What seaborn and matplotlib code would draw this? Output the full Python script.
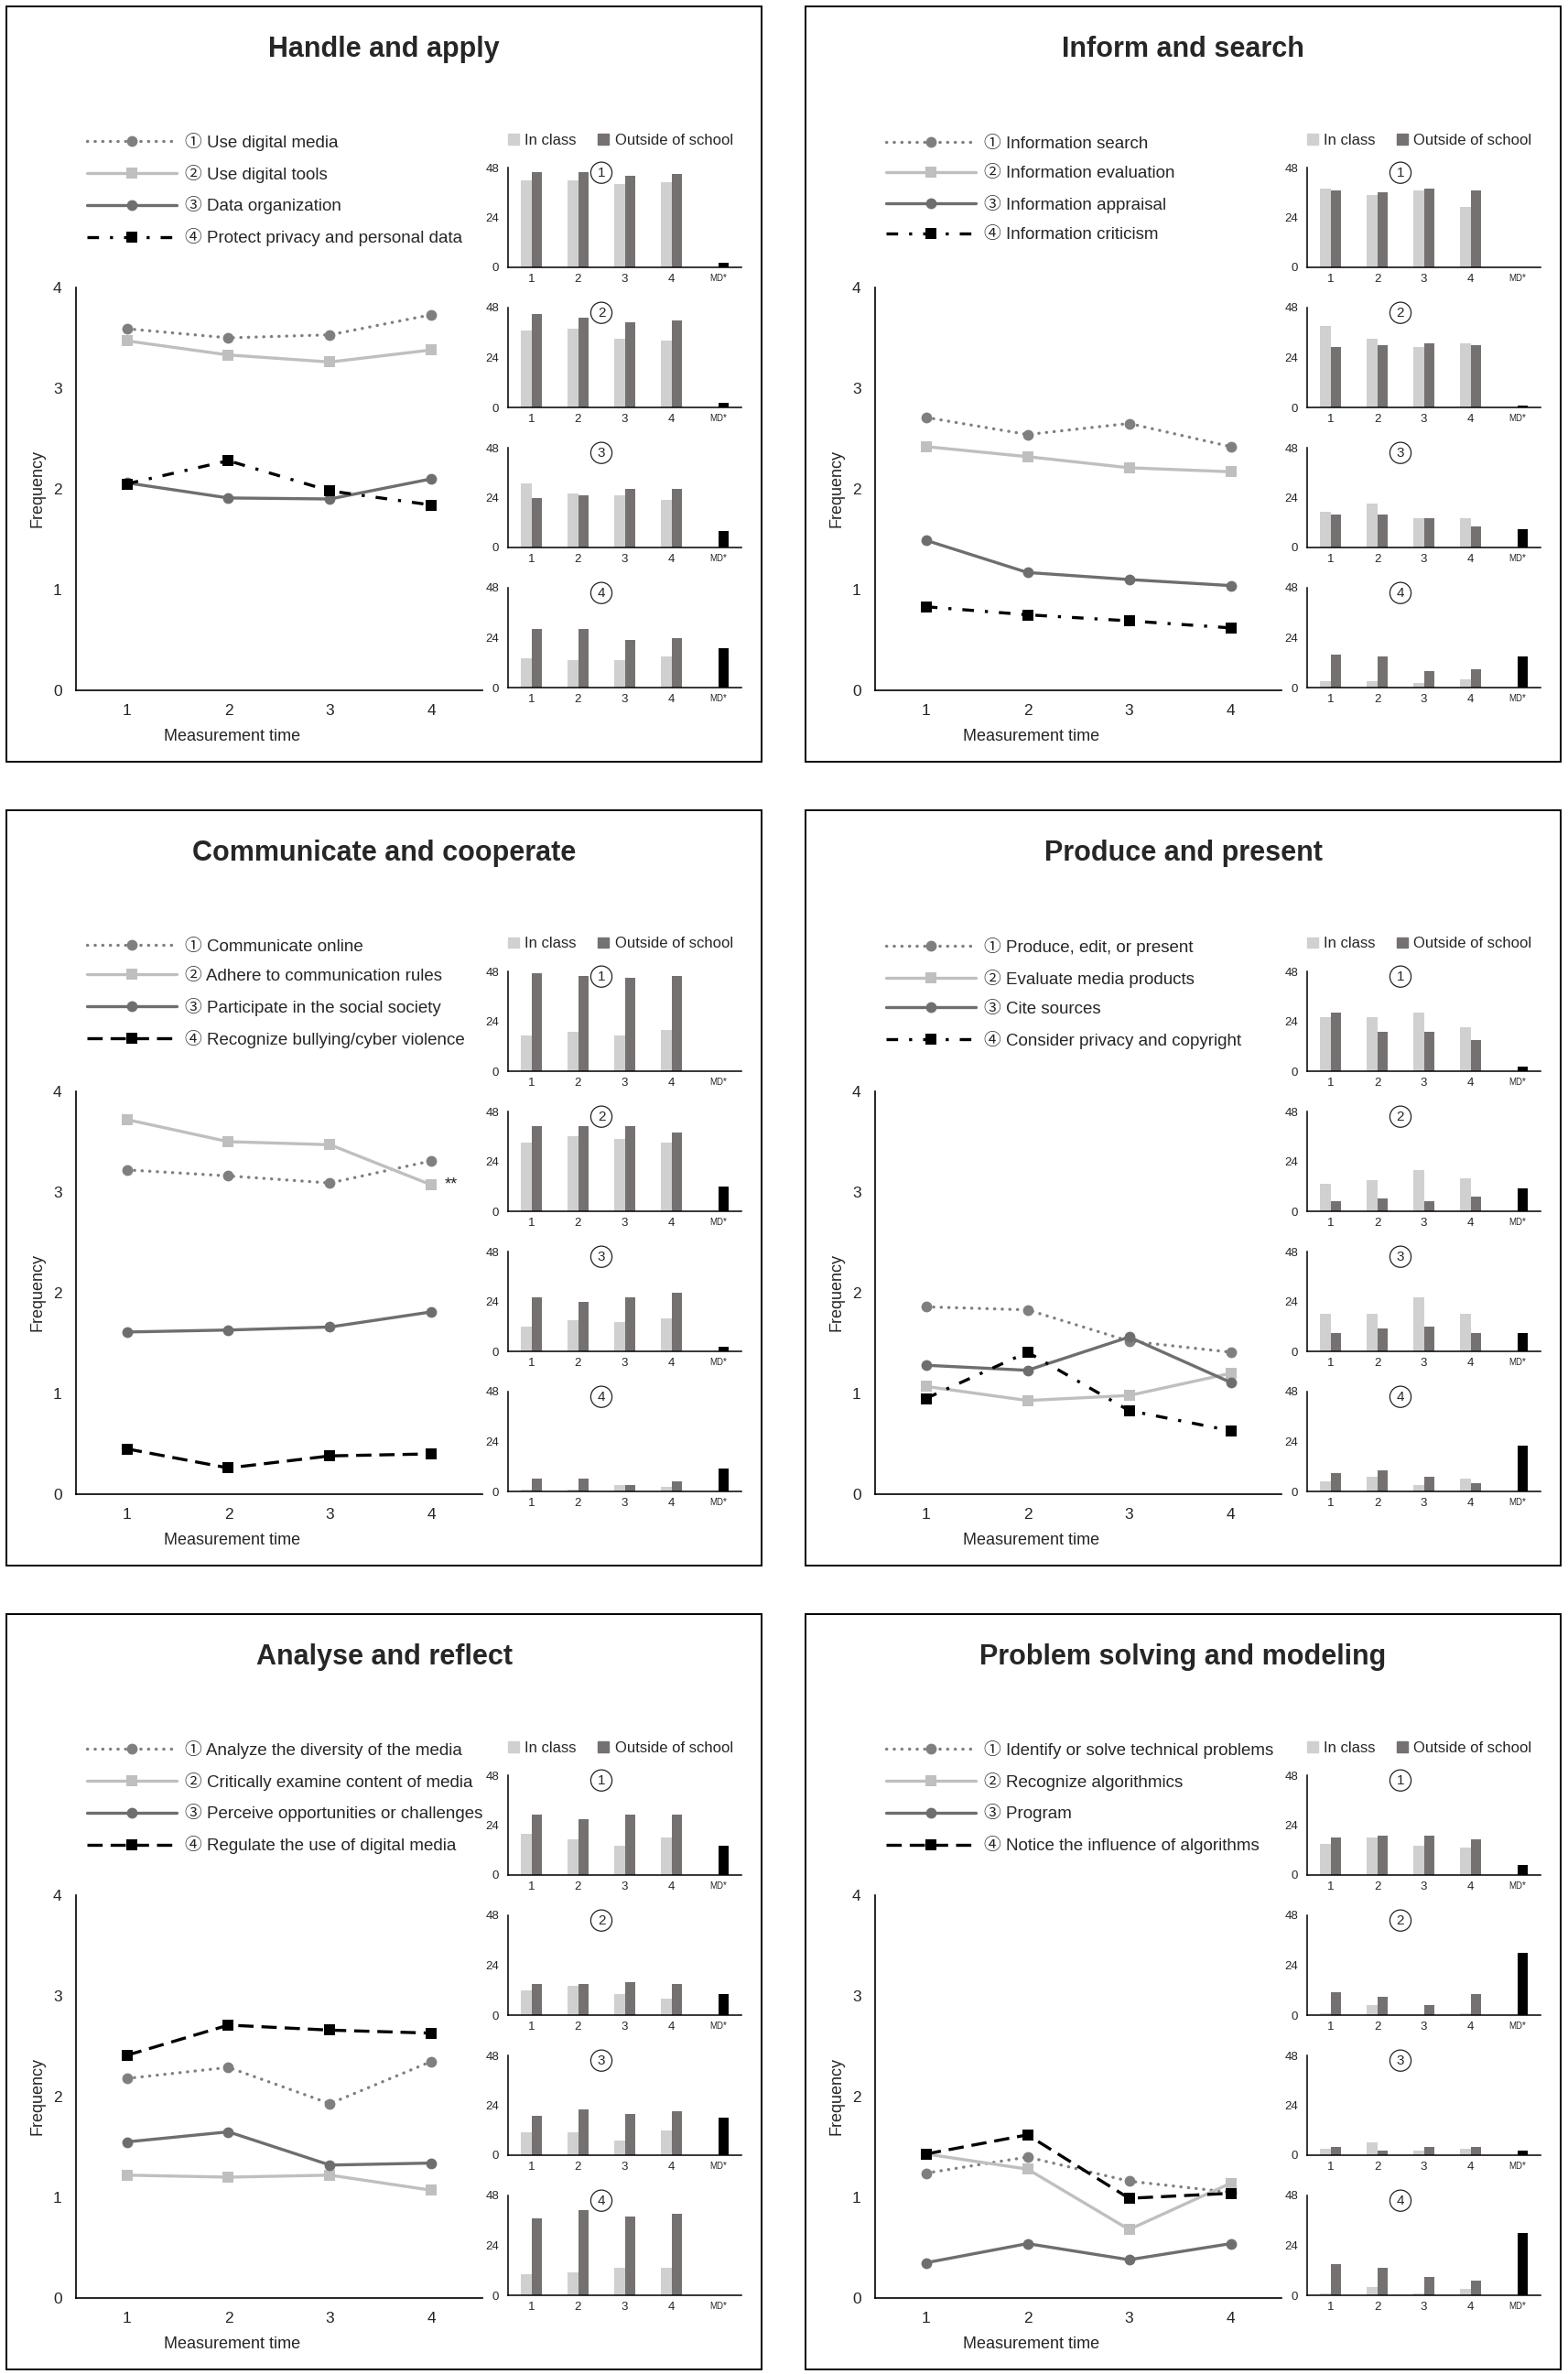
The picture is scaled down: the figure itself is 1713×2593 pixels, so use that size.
import matplotlib
matplotlib.use("Agg")
import matplotlib.pyplot as plt
from matplotlib.patches import Rectangle, Patch
import pandas as pd
import seaborn as sns

W, H = 1713, 2593

times = [1, 2, 3, 4]
bar_cats = ["1", "2", "3", "4", "MD*"]
settings = ["In class", "Outside of school"]
circled = ["\u2460", "\u2461", "\u2462", "\u2463"]

# --- Handle and apply ---
handle_title = "Handle and apply"
handle_labels = ["Use digital media", "Use digital tools", "Data organization",
                 "Protect privacy and personal data"]
handle_lines = [[3.59, 3.50, 3.53, 3.73],
                [3.47, 3.33, 3.26, 3.38],
                [2.06, 1.91, 1.90, 2.10],
                [2.05, 2.28, 1.98, 1.84]]
handle_in = [[42, 42, 40, 41], [37, 38, 33, 32], [31, 26, 25, 23], [14, 13, 13, 15]]
handle_out = [[46, 46, 44, 45], [45, 43, 41, 42], [24, 25, 28, 28], [28, 28, 23, 24]]
handle_md = [2, 2, 8, 19]

# --- Inform and search ---
inform_title = "Inform and search"
inform_labels = ["Information search", "Information evaluation", "Information appraisal",
                 "Information criticism"]
inform_lines = [[2.71, 2.54, 2.65, 2.42],
                [2.42, 2.32, 2.21, 2.17],
                [1.49, 1.17, 1.10, 1.04],
                [0.83, 0.75, 0.69, 0.62]]
inform_in = [[38, 35, 37, 29], [39, 33, 29, 31], [17, 21, 14, 14], [3, 3, 2, 4]]
inform_out = [[37, 36, 38, 37], [29, 30, 31, 30], [16, 16, 14, 10], [16, 15, 8, 9]]
inform_md = [0, 1, 9, 15]

# --- Communicate and cooperate ---
comm_title = "Communicate and cooperate"
comm_labels = ["Communicate online", "Adhere to communication rules",
               "Participate in the social society", "Recognize bullying/cyber violence"]
comm_lines = [[3.22, 3.16, 3.09, 3.31],
              [3.72, 3.50, 3.47, 3.07],
              [1.61, 1.63, 1.66, 1.81],
              [0.45, 0.26, 0.38, 0.40]]
comm_in = [[17, 19, 17, 20], [33, 36, 35, 33], [12, 15, 14, 16], [1, 1, 3, 2]]
comm_out = [[47, 46, 45, 46], [41, 41, 41, 38], [26, 24, 26, 28], [6, 6, 3, 5]]
comm_md = [0, 12, 2, 11]

# --- Produce and present ---
produce_title = "Produce and present"
produce_labels = ["Produce, edit, or present", "Evaluate media products", "Cite sources",
                  "Consider privacy and copyright"]
produce_lines = [[1.86, 1.83, 1.52, 1.41],
                 [1.07, 0.93, 0.98, 1.20],
                 [1.28, 1.23, 1.56, 1.11],
                 [0.95, 1.41, 0.83, 0.63]]
produce_in = [[26, 26, 28, 21], [13, 15, 20, 16], [18, 18, 26, 18], [5, 7, 3, 6]]
produce_out = [[28, 19, 19, 15], [5, 6, 5, 7], [9, 11, 12, 9], [9, 10, 7, 4]]
produce_md = [2, 11, 9, 22]

# --- Analyse and reflect ---
analyse_title = "Analyse and reflect"
analyse_labels = ["Analyze the diversity of the media", "Critically examine content of media",
                  "Perceive opportunities or challenges", "Regulate the use of digital media"]
analyse_lines = [[2.18, 2.29, 1.93, 2.35],
                 [1.22, 1.20, 1.22, 1.07],
                 [1.55, 1.65, 1.32, 1.34],
                 [2.41, 2.71, 2.66, 2.63]]
analyse_in = [[20, 17, 14, 18], [12, 14, 10, 8], [11, 11, 7, 12], [10, 11, 13, 13]]
analyse_out = [[29, 27, 29, 29], [15, 15, 16, 15], [19, 22, 20, 21], [37, 41, 38, 39]]
analyse_md = [14, 10, 18, 0]

# --- Problem solving and modeling ---
problem_title = "Problem solving and modeling"
problem_labels = ["Identify or solve technical problems", "Recognize algorithmics", "Program",
                  "Notice the influence of algorithms"]
problem_lines = [[1.24, 1.40, 1.16, 1.05],
                 [1.43, 1.28, 0.68, 1.14],
                 [0.35, 0.54, 0.38, 0.54],
                 [1.43, 1.62, 0.99, 1.04]]
problem_in = [[15, 18, 14, 13], [1, 5, 0, 1], [3, 6, 2, 3], [1, 4, 1, 3]]
problem_out = [[18, 19, 19, 17], [11, 9, 5, 10], [4, 2, 4, 4], [15, 13, 9, 7]]
problem_md = [5, 30, 2, 30]

sns.set_style("white")
plt.rcParams["font.family"] = ["Liberation Sans", "Noto Sans CJK SC", "DejaVu Sans"]

DASHDOT = (0, (3.8, 3.6, 1.0, 3.6))
DASHED = (0, (5.0, 2.6))

panels = [
    (handle_title, handle_labels, handle_lines, handle_in, handle_out, handle_md, DASHDOT),
    (inform_title, inform_labels, inform_lines, inform_in, inform_out, inform_md, DASHDOT),
    (comm_title, comm_labels, comm_lines, comm_in, comm_out, comm_md, DASHED),
    (produce_title, produce_labels, produce_lines, produce_in, produce_out, produce_md, DASHDOT),
    (analyse_title, analyse_labels, analyse_lines, analyse_in, analyse_out, analyse_md, DASHED),
    (problem_title, problem_labels, problem_lines, problem_in, problem_out, problem_md, DASHED),
]

col_x = [7, 880]
row_y = [7, 885, 1763]
PANEL = 825

bar_pal = {"In class": "#d0d0d0", "Outside of school": "#767171"}


def box(x0, y0, w, h):
    # pixel box (top-left origin) -> figure fraction
    return [x0 / W, 1 - (y0 + h) / H, w / W, h / H]


fig = plt.figure(figsize=(W / 100, H / 100), dpi=100)

for idx, (title, labels, lines, vin, vout, vmd, ls4) in enumerate(panels):
    px = col_x[idx % 2]
    py = row_y[idx // 2]

    fig.add_artist(Rectangle((px / W, 1 - (py + PANEL) / H), PANEL / W, PANEL / H,
                             transform=fig.transFigure, fill=False, ec="black", lw=1.4))
    fig.text((px + PANEL / 2) / W, 1 - (py + 47) / H, title, ha="center", va="center",
             fontsize=22, fontweight="bold")

    # line chart
    ax = fig.add_axes(box(px + 76, py + 307, 444, 440))
    styles = [
        dict(color="#7f7f7f", ls=(0, (0.1, 2.4)), marker="o", dash_capstyle="round", lw=2.4),
        dict(color="#bfbfbf", ls="-", marker="s", lw=2.4),
        dict(color="#6e6e6e", ls="-", marker="o", lw=2.4),
        dict(color="black", ls=ls4, marker="s", lw=2.4),
    ]
    for i in range(4):
        sns.lineplot(x=times, y=lines[i], ax=ax, markersize=8.5, markeredgewidth=0,
                     label=f"{circled[i]} {labels[i]}", **styles[i])
    ax.set_xlim(0.5, 4.5)
    ax.set_ylim(0, 4)
    ax.set_xticks(times)
    ax.set_yticks([0, 1, 2, 3, 4])
    ax.tick_params(length=0, labelsize=12.5, pad=11)
    sns.despine(ax=ax)
    for s in ["left", "bottom"]:
        ax.spines[s].set_color("black")
        ax.spines[s].set_linewidth(1.2)
    ax.set_ylabel("Frequency", fontsize=13)
    ax.yaxis.set_label_coords(-0.075, 0.5)
    ax.set_xlabel("Measurement time", fontsize=13)
    ax.xaxis.set_label_coords(0.385, -0.095)
    ax.legend(loc="center left", bbox_to_anchor=((px + 88) / W, 1 - (py + 200) / H),
              bbox_transform=fig.transFigure, frameon=False, fontsize=13.5,
              handlelength=5.2, handletextpad=0.5, labelspacing=0.8,
              borderpad=0, borderaxespad=0)
    if title == comm_title:
        ax.text(4.13, lines[1][3], "**", fontsize=13, va="center", ha="left")

    # small bar charts
    for k in range(4):
        bx = fig.add_axes(box(px + 548, py + 176 + 153 * k, 255, 109))
        rows = [(c, "In class", v) for c, v in zip(bar_cats[:4], vin[k])]
        rows += [(c, "Outside of school", v) for c, v in zip(bar_cats[:4], vout[k])]
        rows.append(("MD*", "Outside of school", vmd[k]))
        df = pd.DataFrame(rows, columns=["time", "setting", "value"])
        sns.barplot(data=df, x="time", y="value", hue="setting", order=bar_cats,
                    hue_order=settings, palette=bar_pal, width=0.47, saturation=1,
                    errorbar=None, legend=False, linewidth=0, ax=bx)
        for p in bx.patches:
            if p.get_x() > 3.5:
                p.set_facecolor("black")
        bx.set_ylim(0, 48)
        bx.set_xlim(-0.5, 4.5)
        bx.set_yticks([0, 24, 48])
        bx.tick_params(axis="y", length=0, labelsize=9.5, pad=7)
        bx.tick_params(axis="x", length=0, labelsize=9.5, pad=5)
        bx.get_xticklabels()[-1].set_fontsize(7)
        bx.set_xlabel("")
        bx.set_ylabel("")
        sns.despine(ax=bx)
        for s in ["left", "bottom"]:
            bx.spines[s].set_color("black")
            bx.spines[s].set_linewidth(1.1)
        bx.text(1.5, 45.5, str(k + 1), ha="center", va="center", fontsize=11,
                bbox=dict(boxstyle="circle,pad=0.3", fc="none", ec="#222222", lw=0.9),
                clip_on=False)
        if k == 0:
            handles = [Patch(color=bar_pal[s]) for s in settings]
            bx.legend(handles, settings, loc="center left",
                      bbox_to_anchor=((px + 548) / W, 1 - (py + 146) / H),
                      bbox_transform=fig.transFigure, ncol=2, frameon=False, fontsize=12,
                      handlelength=0.7, handleheight=0.7, handletextpad=0.4,
                      columnspacing=1.4, borderpad=0, borderaxespad=0)

fig.savefig("out.png", dpi=100)
